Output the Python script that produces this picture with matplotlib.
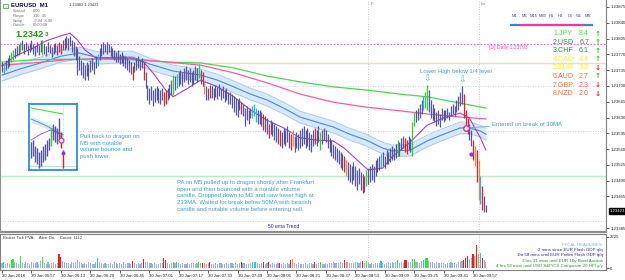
import matplotlib
matplotlib.use("Agg")
import matplotlib.pyplot as plt
import matplotlib.transforms as mtransforms

plt.rcParams['font.family'] = ['Liberation Sans', 'DejaVu Sans']

# ---------------- data ----------------
symbol = "EURUSD"
timeframe = "M1"
last_price = 1.23423
daily_open = 1.23793

hi = [
1.23753,1.23749,1.23758,1.23762,1.23769,1.23775,1.23780,1.23784,1.23789,1.23793,
1.23797,1.23802,1.23793,1.23797,1.23791,1.23795,1.23802,1.23793,1.23789,1.23797,
1.23791,1.23802,1.23802,1.23793,1.23789,1.23797,1.23791,1.23786,1.23793,1.23795,
1.23791,1.23797,1.23793,1.23802,1.23806,1.23811,1.23806,1.23811,1.23802,1.23797,
1.23789,1.23784,1.23766,1.23758,1.23753,1.23746,1.23753,1.23749,1.23758,1.23762,
1.23753,1.23766,1.23771,1.23784,1.23793,1.23797,1.23793,1.23797,1.23793,1.23789,
1.23784,1.23780,1.23775,1.23780,1.23771,1.23775,1.23769,1.23766,1.23762,1.23758,
1.23753,1.23744,1.23753,1.23762,1.23766,1.23758,1.23762,1.23753,1.23731,1.23702,
1.23695,1.23700,1.23691,1.23695,1.23700,1.23695,1.23691,1.23695,1.23687,1.23691,
1.23695,1.23704,1.23713,1.23724,1.23722,1.23726,1.23731,1.23735,1.23731,1.23740,
1.23744,1.23735,1.23740,1.23731,1.23735,1.23744,1.23740,1.23749,1.23735,1.23731,
1.23713,1.23700,1.23695,1.23702,1.23700,1.23695,1.23702,1.23698,1.23704,1.23695,
1.23700,1.23691,1.23695,1.23687,1.23687,1.23682,1.23678,1.23673,1.23669,1.23673,
1.23664,1.23660,1.23651,1.23655,1.23647,1.23651,1.23655,1.23660,1.23651,1.23647,
1.23647,1.23642,1.23638,1.23633,1.23629,1.23616,1.23624,1.23620,1.23616,1.23611,
1.23607,1.23602,1.23598,1.23607,1.23602,1.23611,1.23598,1.23593,1.23602,1.23589,
1.23598,1.23593,1.23602,1.23607,1.23611,1.23602,1.23607,1.23598,1.23593,1.23602,
1.23607,1.23602,1.23611,1.23598,1.23602,1.23607,1.23602,1.23593,1.23585,1.23580,
1.23571,1.23567,1.23562,1.23558,1.23554,1.23549,1.23545,1.23536,1.23531,1.23527,
1.23522,1.23531,1.23522,1.23514,1.23518,1.23509,1.23505,1.23500,1.23514,1.23518,
1.23522,1.23527,1.23522,1.23536,1.23540,1.23545,1.23549,1.23554,1.23545,1.23558,
1.23554,1.23562,1.23567,1.23562,1.23571,1.23580,1.23576,1.23585,1.23589,1.23585,
1.23580,1.23589,1.23585,1.23620,1.23642,1.23647,1.23651,1.23660,1.23669,1.23678,
1.23687,1.23702,1.23691,1.23669,1.23660,1.23651,1.23642,1.23647,1.23638,1.23651,
1.23647,1.23647,1.23651,1.23642,1.23655,1.23660,1.23655,1.23669,1.23678,1.23687,
1.23700,1.23682,1.23647,1.23629,1.23616,1.23602,1.23580,1.23567,1.23558,1.23536,
1.23500,1.23478,1.23456,1.23436]

lo = [
1.23731,1.23726,1.23735,1.23740,1.23744,1.23753,1.23758,1.23762,1.23766,1.23769,
1.23775,1.23780,1.23771,1.23780,1.23769,1.23775,1.23780,1.23771,1.23766,1.23775,
1.23769,1.23775,1.23769,1.23771,1.23766,1.23775,1.23773,1.23764,1.23771,1.23775,
1.23769,1.23775,1.23771,1.23780,1.23780,1.23784,1.23780,1.23789,1.23775,1.23766,
1.23758,1.23724,1.23735,1.23724,1.23718,1.23713,1.23722,1.23713,1.23731,1.23735,
1.23726,1.23740,1.23744,1.23758,1.23766,1.23771,1.23775,1.23771,1.23775,1.23766,
1.23762,1.23758,1.23753,1.23753,1.23749,1.23751,1.23744,1.23740,1.23735,1.23731,
1.23726,1.23713,1.23731,1.23735,1.23740,1.23735,1.23740,1.23713,1.23695,1.23669,
1.23660,1.23669,1.23655,1.23664,1.23669,1.23662,1.23660,1.23669,1.23655,1.23660,
1.23669,1.23673,1.23680,1.23680,1.23691,1.23695,1.23700,1.23704,1.23700,1.23709,
1.23713,1.23704,1.23709,1.23700,1.23704,1.23713,1.23709,1.23718,1.23704,1.23700,
1.23682,1.23669,1.23669,1.23673,1.23673,1.23669,1.23676,1.23671,1.23678,1.23669,
1.23673,1.23664,1.23669,1.23660,1.23660,1.23651,1.23642,1.23636,1.23631,1.23647,
1.23638,1.23633,1.23611,1.23624,1.23616,1.23629,1.23629,1.23633,1.23620,1.23616,
1.23616,1.23611,1.23602,1.23598,1.23593,1.23585,1.23593,1.23589,1.23580,1.23576,
1.23571,1.23567,1.23562,1.23571,1.23567,1.23576,1.23562,1.23558,1.23567,1.23554,
1.23562,1.23558,1.23562,1.23567,1.23571,1.23562,1.23567,1.23558,1.23554,1.23567,
1.23571,1.23567,1.23576,1.23558,1.23571,1.23580,1.23576,1.23562,1.23554,1.23545,
1.23540,1.23536,1.23531,1.23527,1.23518,1.23514,1.23509,1.23500,1.23492,1.23487,
1.23483,1.23492,1.23478,1.23469,1.23483,1.23469,1.23463,1.23465,1.23478,1.23483,
1.23487,1.23492,1.23487,1.23500,1.23509,1.23514,1.23518,1.23522,1.23518,1.23527,
1.23527,1.23531,1.23536,1.23536,1.23540,1.23545,1.23545,1.23558,1.23562,1.23554,
1.23549,1.23558,1.23554,1.23545,1.23611,1.23620,1.23624,1.23629,1.23638,1.23647,
1.23651,1.23647,1.23642,1.23629,1.23624,1.23620,1.23611,1.23616,1.23609,1.23624,
1.23620,1.23624,1.23629,1.23624,1.23633,1.23638,1.23633,1.23642,1.23647,1.23655,
1.23660,1.23629,1.23607,1.23593,1.23580,1.23567,1.23536,1.23522,1.23487,1.23447,
1.23438,1.23425,1.23421,1.23421]

volume = [
350,450,280,380,320,570,630,400,340,270,840,380,
310,420,350,270,460,380,340,400,300,470,780,360,
320,420,270,350,450,280,380,970,810,470,400,340,
380,280,450,350,400,610,420,340,270,380,310,420,
350,260,320,400,700,420,350,300,380,320,270,350,
310,400,340,280,360,320,400,300,350,380,320,510,
340,280,380,310,350,630,450,400,340,380,300,350,
320,280,380,340,700,610,350,310,380,460,350,450,
340,280,380,320,270,350,310,380,340,280,360,400,
350,380,350,300,340,450,320,280,350,310,380,340,
280,320,360,310,340,380,300,350,320,340,400,350,
380,320,300,350,450,400,460,340,300,350,450,320,
350,400,310,340,280,320,360,380,310,340,300,350,
320,540,650,350,310,340,280,320,300,350,310,380,
340,280,400,320,350,450,320,300,350,310,380,350,
400,340,380,350,420,380,580,450,400,350,380,340,
400,450,380,400,470,380,490,350,320,380,310,350,
340,380,470,350,320,380,400,350,450,380,400,580,
380,400,350,570,540,400,450,680,650,450,400,380,
470,570,700,700,510,400,450,380,400,350,380,340,
350,310,380,340,400,350,380,320,400,450,510,580,
700,840,650,700,1000,850,1620,1000,1100,750,560,420]

# PVA bar categories (bar indices)
cyan_bars = [1, 52, 95, 136, 137, 138, 206, 229, 260]
green_bars = [5, 6, 10, 22, 93, 107, 173, 198, 215, 223, 224, 230, 231]
red_bars = [31, 32, 71, 77, 88, 89, 109, 113, 130, 142, 145, 151, 157, 170, 186,
            196, 219, 220, 251, 252, 253, 256, 258, 261]
orange_bars = [110, 158, 187, 257, 259]

# moving averages read at sample bars
dragon_idx = [0, 10, 21, 32, 42, 53, 64, 71, 80, 93, 108, 117, 126, 135, 144, 153, 162,
              171, 180, 189, 198, 207, 212, 222, 231, 240, 249, 254, 260, 263]
dragon_mid = [1.23724, 1.23738, 1.23751, 1.23766, 1.23773, 1.23762, 1.23764, 1.23764,
              1.23749, 1.23733, 1.23724, 1.23713, 1.23698, 1.23682, 1.23669, 1.23651,
              1.23631, 1.23620, 1.23609, 1.23593, 1.23580, 1.23562, 1.23556, 1.23558,
              1.23578, 1.23593, 1.23607, 1.23607, 1.23600, 1.23593]
dragon_half = 0.00013

purple_idx = [0, 7, 17, 24, 32, 37, 41, 45, 51, 59, 70, 77, 82, 89, 93, 101, 108, 117,
              126, 135, 144, 153, 162, 171, 180, 186, 193, 199, 207, 212, 222, 231, 240,
              249, 254, 260, 263]
purple_val = [1.23744, 1.23766, 1.23784, 1.23800, 1.23811, 1.23817, 1.23802, 1.23780,
              1.23762, 1.23762, 1.23762, 1.23753, 1.23729, 1.23691, 1.23676, 1.23695,
              1.23713, 1.23698, 1.23676, 1.23647, 1.23624, 1.23607, 1.23585, 1.23580,
              1.23578, 1.23562, 1.23536, 1.23514, 1.23518, 1.23543, 1.23576, 1.23613,
              1.23629, 1.23640, 1.23629, 1.23585, 1.23558]

green_idx = [0, 17, 53, 71, 90, 108, 126, 144, 162, 180, 198, 216, 231, 249, 263]
green_val = [1.23753, 1.23758, 1.23760, 1.23758, 1.23753, 1.23751, 1.23740, 1.23722,
             1.23709, 1.23698, 1.23691, 1.23682, 1.23676, 1.23662, 1.23651]

pink_idx = [0, 17, 35, 53, 71, 90, 108, 126, 144, 162, 180, 198, 216, 231, 249, 263]
pink_val = [1.23746, 1.23751, 1.23758, 1.23760, 1.23760, 1.23753, 1.23746, 1.23729,
            1.23707, 1.23682, 1.23664, 1.23653, 1.23645, 1.23638, 1.23631, 1.23627]

quarter_level = 1.23750
dotted_levels = [1.23700, 1.23600, 1.23400]
half_level = 1.23500

session_bars = [199, 259]
session_names = ["F", "Ln"]

lower_high_bars = [231, 250]
entry_bar = 252
entry_price = 1.23607
stop_dot_bar = 255
stop_dot_price = 1.23549

time_pos = list(range(0, 257, 16))
time_labels = ['30 Jan 2018', '30 Jan 05:57', '30 Jan 06:13', '30 Jan 06:29', '30 Jan 06:45',
               '30 Jan 07:01', '30 Jan 07:17', '30 Jan 07:33', '30 Jan 07:49', '30 Jan 08:05',
               '30 Jan 08:21', '30 Jan 08:37', '30 Jan 08:53', '30 Jan 09:09', '30 Jan 09:25',
               '30 Jan 09:41', '30 Jan 09:57']
price_ticks = [1.23875, 1.23840, 1.23805, 1.23770, 1.23735, 1.23700, 1.23665, 1.23630,
               1.23595, 1.23560, 1.23525, 1.23490, 1.23455, 1.23420, 1.23385]
vol_ticks = [0, 2225]

cs_names = ['JPY', 'USD', 'CHF', 'CAD', 'EUR', 'AUD', 'GBP', 'NZD']
cs_vals = [8.4, 6.7, 6.1, 4.4, 3.3, 2.7, 2.3, 2.0]
cs_up = [True, True, True, True, False, True, False, False]
tf_names = ['M1', 'M5', 'M15', 'M30', 'H1', 'H4', 'D1', 'W1', 'MN']
tf_state = ['b', 'p', 'p', 'p', 'p', 'p', 'p', 'p', 'b']

# inset (M5 snapshot)
mini_hi = [1.2382, 1.2384, 1.2378, 1.2376, 1.2372, 1.2374, 1.2378, 1.2380, 1.2384,
           1.2386, 1.2396, 1.2400, 1.2398, 1.2396, 1.2406, 1.2392, 1.2374]
mini_lo = [1.2366, 1.2368, 1.2362, 1.2360, 1.2356, 1.2358, 1.2362, 1.2364, 1.2368,
           1.2374, 1.2378, 1.2384, 1.2382, 1.2380, 1.2384, 1.2376, 1.2356]
mini_green_bars = [10]
mini_red_bars = [15, 16]
mini_green_idx = [0, 16]
mini_green_val = [1.2416, 1.2410]
mini_band_idx = [0, 8, 16]
mini_band_val = [1.2405, 1.2398, 1.2389]
mini_purple_idx = [0, 5, 10, 14, 16]
mini_purple_val = [1.2384, 1.2390, 1.2394, 1.2390, 1.2384]
mini_level = 1.2358

# ---------------- figure ----------------
W, H = 625, 280
fig = plt.figure(figsize=(W / 100, H / 100), dpi=100, facecolor='white')


def fx(x):
    return x / W


def fy(y):
    return 1 - y / H


X0, DX = 2.0, 1.84
RIGHT = 606
ax = fig.add_axes([0, fy(232), fx(RIGHT), 232 / H])
vax = fig.add_axes([0, fy(270), fx(RIGHT), 36 / H])
xl = (-X0 / DX, (RIGHT - X0) / DX)
for a in (ax, vax):
    a.set_xlim(*xl)
    a.set_facecolor('white')
ax.set_ylim(1.233763, 1.238905)

n = len(hi)
idx = list(range(n))
pcol = ['#55559f'] * n
vcol = ['#98b3d4'] * n
for i in cyan_bars:
    pcol[i] = '#1fb8e0'; vcol[i] = '#22c8ec'
for i in green_bars:
    pcol[i] = '#2fd12f'; vcol[i] = '#33e633'
for i in red_bars:
    pcol[i] = '#ee1c1c'; vcol[i] = '#f01c1c'
for i in orange_bars:
    pcol[i] = '#ff8040'; vcol[i] = '#ff8a50'

# levels
ax.axhline(daily_open, color='#ff5ccc', ls=(0, (1.5, 1.5)), lw=0.8, zorder=1)
ax.axhline(quarter_level, color='#eadcc0', lw=1.0, zorder=1)
for lv in dotted_levels:
    ax.axhline(lv, color='#a9cde8', ls=(0, (1, 2)), lw=0.6, zorder=1)
ax.axhline(half_level, color='#b6eec6', lw=1.0, zorder=1)
for b in session_bars:
    for a in (ax, vax):
        a.axvline(b, color='#b5b5b5', ls=(0, (1, 2)), lw=0.6, zorder=1)

# dragon
up = [m + dragon_half for m in dragon_mid]
dn = [m - dragon_half for m in dragon_mid]
ax.fill_between(dragon_idx, dn, up, color='#d9e8f8', lw=0, zorder=2)
ax.plot(dragon_idx, up, color='#a8ccee', lw=0.7, zorder=2)
ax.plot(dragon_idx, dn, color='#a8ccee', lw=0.7, zorder=2)
ax.plot(dragon_idx, dragon_mid, color='#3c8fe0', lw=0.8, zorder=3)
ax.plot(green_idx, green_val, color='#4bd84b', lw=0.9, zorder=3)
ax.plot(pink_idx, pink_val, color='#ff5aa5', lw=0.9, zorder=3)
ax.plot(purple_idx, purple_val, color='#a640d8', lw=0.8, zorder=3)

ax.vlines(idx, lo, hi, colors=pcol, lw=0.9, zorder=4)

# annotations on chart
note_c = '#3a9ee0'
for b in lower_high_bars:
    ax.text(b, hi[b] + 0.00004, '\u21e9', family='DejaVu Sans', fontsize=6.5, color='#5aaee6',
            ha='center', va='bottom', zorder=6)
ax.plot([entry_bar], [entry_price], 'o', ms=4, mfc='white', mec='#d02fa0', mew=1.0, zorder=7)
ax.plot([stop_dot_bar], [stop_dot_price], 'o', ms=2, color='#9a30d0', zorder=7)
ax.annotate('Entered on break of 30MA', xy=(entry_bar, entry_price),
            xytext=(492, H - 124), textcoords='figure pixels', fontsize=4.3, color=note_c,
            va='center', ha='left', arrowprops=dict(arrowstyle='-', color='#5aaee6', lw=0.6,
                                                   shrinkA=0, shrinkB=2))
fig.text(fx(420), fy(72), 'Lower High below 1/4 level', fontsize=4.3, color=note_c, va='center')
fig.text(fx(177), fy(180), "PA on M5 pulled up to dragon shortly after Frankfurt\n"
         "open and then bounced with a notable volume\ncandle. Dropped down to M1 and saw lower high at\n"
         "233MA. Waited for break below 50MA with bearish\ncandle and notable volume before entering sell.",
         fontsize=4.3, color=note_c, va='top', linespacing=1.42)
fig.text(fx(80), fy(134), "Pull back to dragon on\nM5 with notable\nvolume bounce and\npush lower.",
         fontsize=4.3, color=note_c, va='top', linespacing=1.42)
fig.text(fx(268), fy(226), '50 ema Trend', fontsize=3.6, color='#2a2a90', va='center')
fig.text(fx(489), fy(47), f'[D] Daily {daily_open:.5f}', fontsize=3.6, color='#ff44aa', va='center')

# session labels
for b, name in zip(session_bars, session_names):
    fig.text(fx(X0 + DX * b + 2), fy(4), name, fontsize=3.2, color='#808080', va='center')

# price axis
ax.yaxis.tick_right()
shown = [p for p in price_ticks if abs(p - last_price) > 0.00008]
ax.set_yticks(shown)
ax.set_yticklabels([f'{p:.5f}' for p in shown])
ax.tick_params(axis='y', labelsize=3.1, length=2, width=0.5, pad=1, colors='#202020')
ax.tick_params(axis='x', bottom=False, labelbottom=False)
trans = mtransforms.blended_transform_factory(ax.transAxes, ax.transData)
ax.text(1.006, last_price, f'{last_price:.5f}', transform=trans, fontsize=3.1, color='white',
        va='center', ha='left', zorder=10, clip_on=False,
        bbox=dict(boxstyle='square,pad=0.15', fc='black', ec='black'))
ax.spines['top'].set_visible(False)
ax.spines['right'].set_color('#808080'); ax.spines['right'].set_linewidth(0.8)
ax.spines['left'].set_color('#909090'); ax.spines['left'].set_linewidth(0.8)
ax.spines['bottom'].set_color('#8c8c8c'); ax.spines['bottom'].set_linewidth(1.6)

# volume panel
vax.bar(idx, volume, width=0.6, color=vcol, zorder=3)
vax.set_ylim(-143, 2440)
vax.yaxis.tick_right()
vax.set_yticks(vol_ticks)
vax.set_yticklabels([str(v) for v in vol_ticks])
vax.tick_params(axis='y', labelsize=3.1, length=2, width=0.5, pad=1, colors='#202020')
vax.set_xticks(time_pos)
vax.set_xticklabels(time_labels, fontsize=3.1, ha='left')
vax.tick_params(axis='x', length=2, width=0.5, pad=0.8, colors='#202020')
for s in vax.spines.values():
    s.set_color('#808080'); s.set_linewidth(0.8)
fig.text(fx(3), fy(238), 'Broker Tick PVA:    Alert On.    Count: 1112', fontsize=3.1,
         color='#404040', va='center')
ff_lines = [("FFCAL HEADLINES:", '#7ab2e6'),
            ("2 mins since EUR Flash GDP q/q", '#2020cc'),
            ("1hr 58 mins until EUR Prelim Flash GDP q/q", '#2020cc'),
            ("3 hrs 31 mins until EUR 10y Bond Auction", '#229922'),
            ("4 hrs 58 mins until USD S&P/CS Composite-20 HPI y/y", '#229922')]
for k, (t, c) in enumerate(ff_lines):
    fig.text(fx(603), fy(245 + 5.2 * k), t, fontsize=3.2, color=c, ha='right', va='center')

# top-left info
fig.add_artist(plt.Rectangle((fx(3), fy(8)), fx(5), 4 / H, transform=fig.transFigure,
                             fc='#e8f5e0', ec='#3a9a3a', lw=0.5))
fig.text(fx(11), fy(5.5), f'{symbol}  {timeframe}', fontsize=4.3, fontweight='bold',
         color='#10105a', va='center')
fig.text(fx(69), fy(5), '1.23403 1.23423', fontsize=2.8, color='#303030', va='center')
info = [('Spread', '0.00'), ('Range', '110, 45'), ('Swap', '-9.94  4.90'), ('Candle', '00:00:08')]
for k, (lab, val) in enumerate(info):
    fig.text(fx(13), fy(11 + 4.8 * k), lab, fontsize=2.9, color='#707070', va='center')
    fig.text(fx(33), fy(11 + 4.8 * k), val, fontsize=2.9, color='#707070', va='center')
fig.text(fx(15), fy(34.5), f'{last_price:.5f}'[:-1], fontsize=6.6, fontweight='bold',
         color='#1f9a1f', va='center')
fig.text(fx(44.5), fy(34), f'{last_price:.5f}'[-1], fontsize=4.4, fontweight='bold',
         color='#1f9a1f', va='center')

# currency strength panel
tf_x0, tf_dx = 515, 9.15
for k, (tf, st) in enumerate(zip(tf_names, tf_state)):
    cx = tf_x0 + tf_dx * k
    fig.text(fx(cx), fy(16), tf, fontsize=2.9, color='#3a4a9a', ha='center', va='center')
    fig.add_artist(plt.Line2D([fx(cx - 3.6), fx(cx + 3.6)], [fy(25), fy(25)], lw=1.6,
                              color='#2a8ae8' if st == 'b' else '#ff3399', transform=fig.transFigure))
cs_cols = ['#33e633', '#1e9a1e', '#1e9a1e', '#ffe830', '#ffe830', '#ff6a3a', '#ff6a3a', '#ff6a3a']
for k, (nm, v, u) in enumerate(zip(cs_names, cs_vals, cs_up)):
    yy = fy(33.5 + 8.6 * k)
    fig.text(fx(553), yy, f'{k + 1}.{nm}', fontsize=5.1, color=cs_cols[k], va='center')
    fig.text(fx(589), yy, f'{v:.1f}', fontsize=5.1, color=cs_cols[k], va='center', ha='right')
    fig.text(fx(598), yy, '\u2191' if u else '\u2193', family='DejaVu Sans', fontsize=5.3,
             fontweight='bold', color='#22cc22' if u else '#ee2020', ha='center', va='center')

# inset M5 snapshot
iax = fig.add_axes([fx(29), fy(170), fx(48), 66 / H])
iax.set_xlim(-1, 23)
iax.set_ylim(1.2354, 1.2420)
iax.set_xticks([]); iax.set_yticks([])
for s in iax.spines.values():
    s.set_color('#2a8fe0'); s.set_linewidth(1.3)
m = len(mini_hi)
mcol = ['#55559f'] * m
for i in mini_green_bars:
    mcol[i] = '#2fd12f'
for i in mini_red_bars:
    mcol[i] = '#ee1c1c'
iax.axhline(mini_level, color='#b6eec6', lw=0.9)
iax.axvline(16, color='#b5b5b5', ls=(0, (1, 2)), lw=0.5)
bu = [v + 0.0003 for v in mini_band_val]
bd = [v - 0.0003 for v in mini_band_val]
iax.fill_between(mini_band_idx, bd, bu, color='#d9e8f8', lw=0)
iax.plot(mini_band_idx, mini_band_val, color='#3c8fe0', lw=0.6)
iax.plot(mini_green_idx, mini_green_val, color='#4bd84b', lw=0.8)
iax.plot(mini_purple_idx, mini_purple_val, color='#a640d8', lw=0.6)
iax.vlines(list(range(m)), mini_lo, mini_hi, colors=mcol, lw=1.0)
iax.plot([15], [1.2384], 'o', ms=3.5, mfc='white', mec='#d02fa0', mew=0.9)
iax.plot([16], [1.2371], 'o', ms=1.8, color='#9a30d0')

fig.savefig('out.png', dpi=100, facecolor='white')
